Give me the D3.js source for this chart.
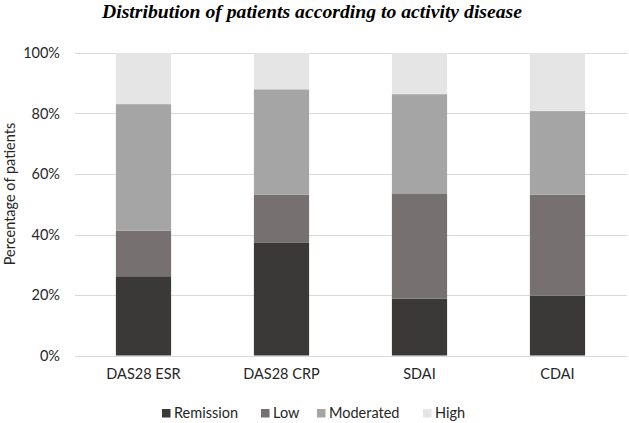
<!DOCTYPE html>
<html><head><meta charset="utf-8">
<script src="https://cdn.jsdelivr.net/npm/d3@7"></script>
<style>body{margin:0;background:#fff}svg{display:block}</style>
</head><body>
<svg id="c" width="629" height="423"></svg>
<script>
const categories = ["DAS28 ESR", "DAS28 CRP", "SDAI", "CDAI"];
const seriesNames = ["Remission", "Low", "Moderated", "High"];
const remission = [26.2, 37.4, 18.8, 19.8];
const low = [15.1, 15.7, 34.8, 33.4];
const moderated = [41.8, 34.9, 32.8, 27.6];
const high = [16.9, 12.0, 13.6, 19.2];
const yTicks = [0, 20, 40, 60, 80, 100];
const colors = ["#3b3938", "#767170", "#a5a5a5", "#e5e5e5"];
const title = "Distribution of patients according to activity disease";
const yLabel = "Percentage of patients";

const rows = categories.map((c, i) => ({cat: c, Remission: remission[i], Low: low[i], Moderated: moderated[i], High: high[i]}));
const stacked = d3.stack().keys(seriesNames)(rows);

const svg = d3.select("#c");
const font = "Lato, 'Open Sans', sans-serif";
const x = d3.scaleBand().domain(categories).range([74.5, 626.5]).paddingInner(0.6).paddingOuter(0.3);
const y = d3.scaleLinear().domain([0, 100]).range([355.5, 53]);

// gridlines
svg.append("g").selectAll("line").data(yTicks).join("line")
  .attr("x1", 75).attr("x2", 627)
  .attr("y1", d => Math.round(y(d)) + 0.5).attr("y2", d => Math.round(y(d)) + 0.5)
  .attr("stroke", "#d9d9d9").attr("stroke-width", 1);

// y axis labels
const yAxis = d3.axisLeft(y).tickValues(yTicks).tickFormat(d => d + "%").tickSize(0).tickPadding(0);
const ga = svg.append("g").attr("transform", "translate(60,0)").call(yAxis);
ga.select(".domain").remove();
ga.selectAll("text").attr("font-family", font).attr("font-size", 14.5).attr("fill", "#262626");

// bars
svg.append("g").selectAll("g").data(stacked).join("g")
  .attr("fill", (d, i) => colors[i])
  .selectAll("rect").data(d => d).join("rect")
  .attr("x", d => x(d.data.cat))
  .attr("width", x.bandwidth())
  .attr("y", d => y(d[1]))
  .attr("height", d => y(d[0]) - y(d[1]));

// x axis labels
const xAxis = d3.axisBottom(x).tickSize(0).tickPadding(0);
const gx = svg.append("g").attr("transform", "translate(0,369)").call(xAxis);
gx.select(".domain").remove();
gx.selectAll("text").attr("font-family", font).attr("font-size", 14.5).attr("fill", "#262626");

// title
svg.append("text").attr("x", 312).attr("y", 18).attr("text-anchor", "middle")
  .attr("font-family", "'Liberation Serif', 'Times New Roman', serif")
  .attr("font-weight", "bold").attr("font-style", "italic").attr("font-size", 18.5)
  .attr("textLength", 420).attr("lengthAdjust", "spacingAndGlyphs")
  .attr("fill", "#000").text(title);

// y label
svg.append("text").attr("transform", "translate(15,194) rotate(-90)")
  .attr("text-anchor", "middle").attr("font-family", font).attr("font-size", 14.5)
  .attr("fill", "#262626").text(yLabel);

// legend
const legX = [162, 261, 317, 423];
const lg = svg.append("g").selectAll("g").data(seriesNames).join("g")
  .attr("transform", (d, i) => `translate(${legX[i]},409)`);
lg.append("rect").attr("width", 8.5).attr("height", 8.5).attr("fill", (d, i) => colors[i]);
lg.append("text").attr("x", 12).attr("y", 8.5).attr("font-family", font).attr("font-size", 14.5)
  .attr("fill", "#262626").text(d => d);
</script>
</body></html>
